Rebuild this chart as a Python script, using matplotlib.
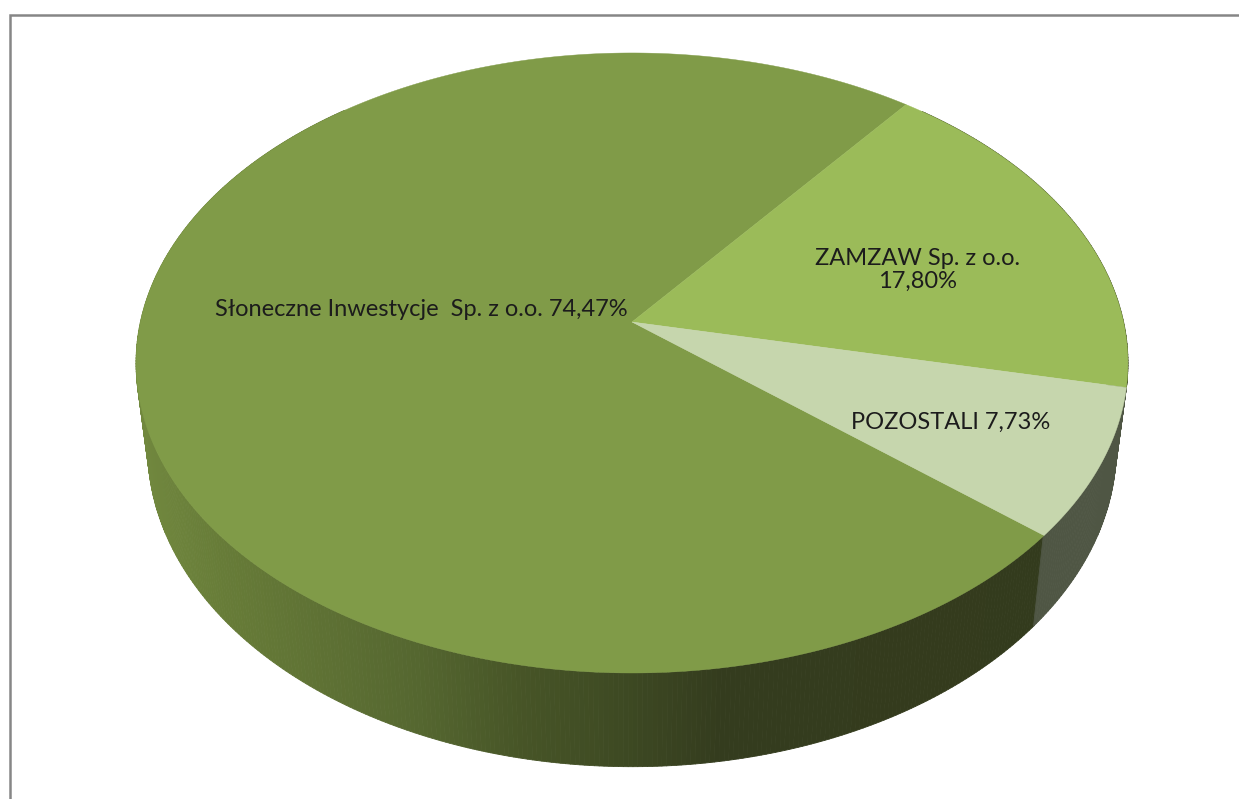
import numpy as np
import matplotlib
matplotlib.use("Agg")
import matplotlib.pyplot as plt
from matplotlib.collections import PolyCollection

# Udziały w procentach
names = ["Słoneczne Inwestycje  Sp. z o.o. 74,47%", "ZAMZAW Sp. z o.o.\n17,80%", "POZOSTALI 7,73%"]
shares = [74.47, 17.80, 7.73]
top_colors = ["#809B48", "#9BBB59", "#C6D6AD"]
side_colors = [None, "#343B1D", "#4F5644"]

# Odcień boku największego wycinka w zależności od x
shade_x = [140, 230, 330, 420, 520, 620, 720, 1240]
shade_r = [0x72, 0x67, 0x5E, 0x55, 0x47, 0x3E, 0x34, 0x33]
shade_g = [0x89, 0x7C, 0x71, 0x67, 0x55, 0x4A, 0x3C, 0x3A]
shade_b = [0x3F, 0x38, 0x34, 0x30, 0x27, 0x23, 0x1E, 0x1C]

START_ANGLE = 129.9  # kąt początku pierwszego wycinka, od północy zgodnie z zegarem
PERSP = 0.1322
TOP = dict(x0=632, y0=322, k=491.6, m=304.6)
BOTTOM = dict(x0=632, y0=406, k=480.0, m=313.0)


def project(angle_deg, plane):
    # rzut okręgu jednostkowego z perspektywą
    a = np.radians(angle_deg)
    X, Y = np.sin(a), np.cos(a)
    w = 1 + PERSP * Y
    return plane["x0"] + plane["k"] * X / w, plane["y0"] - plane["m"] * Y / w


fig = plt.figure(figsize=(12.39, 7.99), dpi=100)
ax = fig.add_axes([0, 0, 1, 1])
ax.set_xlim(0, 1239)
ax.set_ylim(799, 0)
ax.axis("off")

# Ramka wykresu
ax.plot([10, 10, 1239], [799, 15, 15], color="#868686", lw=1.8, solid_joinstyle="miter")

edges = START_ANGLE + np.cumsum([0] + shares) * 3.6

# Bok walca jako wąskie paski
for i in range(3):
    t = np.arange(edges[i], edges[i + 1] + 0.25, 0.5)
    t = t[(t % 360 > 40) & (t % 360 < 320)]
    xt, yt = project(t, TOP)
    xb, yb = project(t, BOTTOM)
    quads, cols = [], []
    for j in range(len(t) - 1):
        quads.append([(xt[j], yt[j]), (xt[j + 1], yt[j + 1]), (xb[j + 1], yb[j + 1]), (xb[j], yb[j])])
        xm = (xb[j] + xb[j + 1]) / 2
        if side_colors[i] is None:
            cols.append((np.interp(xm, shade_x, shade_r) / 255,
                         np.interp(xm, shade_x, shade_g) / 255,
                         np.interp(xm, shade_x, shade_b) / 255))
        else:
            cols.append(side_colors[i])
    ax.add_collection(PolyCollection(quads, facecolors=cols, edgecolors=cols, linewidths=0.6))

# Górna powierzchnia
for i in range(3):
    t = np.linspace(edges[i], edges[i + 1], 400)
    xt, yt = project(t, TOP)
    ax.fill(np.r_[TOP["x0"], xt], np.r_[TOP["y0"], yt], color=top_colors[i], lw=0.3)

text_pos = [(421, 310), (918, 270), (951, 422)]
for name, (tx, ty) in zip(names, text_pos):
    ax.text(tx, ty, name, family="Lato", fontsize=17, color="#1C1C1C",
            ha="center", va="center", linespacing=1.15)

fig.savefig("out.png", dpi=100)
